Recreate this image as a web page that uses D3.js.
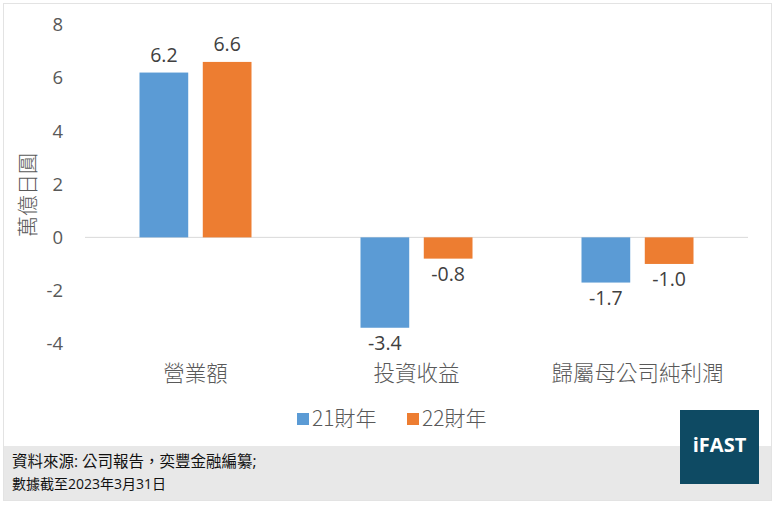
<!DOCTYPE html>
<html>
<head>
<meta charset="utf-8">
<script src="https://cdn.jsdelivr.net/npm/d3@7"></script>
<style>
  body { margin: 0; background: #fff; }
  text { font-family: "Open Sans", "Noto Sans CJK TC", sans-serif; }
  .cjk { font-family: "Noto Sans CJK TC", sans-serif; font-weight: 300; }
</style>
</head>
<body>
<div id="chart"></div>
<script>
// chart data
const categories = ["營業額", "投資收益", "歸屬母公司純利潤"];
const seriesNames = ["21財年", "22財年"];
const fy21 = [6.2, -3.4, -1.7];
const fy22 = [6.6, -0.8, -1.0];
const yTicks = [-4, -2, 0, 2, 4, 6, 8];
const colors = ["#5B9BD5", "#ED7D31"];
const footnote = ["資料來源: 公司報告，奕豐金融編纂;", "數據截至2023年3月31日"];

const width = 779, height = 506;
const margin = { top: 25, right: 31, bottom: 162, left: 85 };
const innerW = width - margin.left - margin.right;

const svg = d3.select("#chart").append("svg")
  .attr("width", width)
  .attr("height", height);

// outer frame + footer band
svg.append("rect")
  .attr("x", 3.5).attr("y", 3.5)
  .attr("width", 768).attr("height", 497)
  .attr("fill", "#fff").attr("stroke", "#e3e3e3");

svg.append("rect")
  .attr("x", 4).attr("y", 446)
  .attr("width", 767).attr("height", 54)
  .attr("fill", "#e8e8e8");

// footnote, two lines in one text block (first line is a bit larger)
svg.append("text")
  .attr("font-family", "\"Noto Sans CJK TC\", sans-serif")
  .attr("fill", "#111")
  .selectAll("tspan")
  .data(footnote)
  .join("tspan")
  .attr("x", 12)
  .attr("y", (d, i) => i === 0 ? 467 : 489)
  .attr("font-size", (d, i) => i === 0 ? 15.5 : 14)
  .text(d => d);

// logo
svg.append("rect")
  .attr("x", 680).attr("y", 410)
  .attr("width", 79).attr("height", 74)
  .attr("fill", "#0E4A63");
svg.append("text")
  .attr("x", 719.5).attr("y", 452)
  .attr("text-anchor", "middle")
  .attr("font-family", "Roboto, sans-serif")
  .attr("font-weight", "bold")
  .attr("font-size", 20)
  .attr("fill", "#fff")
  .text("iFAST");

const g = svg.append("g")
  .attr("transform", `translate(${margin.left},0)`);

const y = d3.scaleLinear().domain([-4, 8]).range([343.7, 24.7]);
const x0 = d3.scaleBand().domain(categories).range([0, innerW]);
const x1 = d3.scaleBand().domain(seriesNames)
  .range([x0.bandwidth() / 2 - 56, x0.bandwidth() / 2 + 56])
  .paddingInner(0.23);

// y tick labels
g.selectAll("text.ytick")
  .data(yTicks)
  .join("text")
  .attr("class", "ytick")
  .attr("x", -22)
  .attr("y", d => y(d))
  .attr("dy", "0.35em")
  .attr("text-anchor", "end")
  .attr("font-size", 18.5)
  .attr("fill", "#595959")
  .text(d => d);

// zero line
g.append("line")
  .attr("x1", 0).attr("x2", innerW)
  .attr("y1", y(0)).attr("y2", y(0))
  .attr("stroke", "#d9d9d9");

// y axis title
svg.append("text")
  .attr("class", "cjk")
  .attr("transform", `translate(35,195) rotate(-90)`)
  .attr("text-anchor", "middle")
  .attr("font-size", 21)
  .attr("fill", "#595959")
  .text("萬億日圓");

const rows = categories.map((c, i) => ({
  cat: c,
  vals: [{ s: seriesNames[0], v: fy21[i], k: 0 }, { s: seriesNames[1], v: fy22[i], k: 1 }]
}));

const grp = g.selectAll("g.cat")
  .data(rows)
  .join("g")
  .attr("class", "cat")
  .attr("transform", d => `translate(${x0(d.cat)},0)`);

grp.selectAll("rect")
  .data(d => d.vals)
  .join("rect")
  .attr("x", d => x1(d.s))
  .attr("width", x1.bandwidth())
  .attr("y", d => y(Math.max(0, d.v)))
  .attr("height", d => Math.abs(y(d.v) - y(0)))
  .attr("fill", d => colors[d.k]);

grp.selectAll("text.val")
  .data(d => d.vals)
  .join("text")
  .attr("class", "val")
  .attr("x", d => x1(d.s) + x1.bandwidth() / 2)
  .attr("y", d => d.v >= 0 ? y(d.v) - 11 : y(d.v) + 22)
  .attr("text-anchor", "middle")
  .attr("font-size", 19.5)
  .attr("fill", "#404040")
  .text(d => d.v.toFixed(1));

// category labels
g.selectAll("text.catlbl")
  .data(categories)
  .join("text")
  .attr("class", "catlbl cjk")
  .attr("x", d => x0(d) + x0.bandwidth() / 2)
  .attr("y", 381)
  .attr("text-anchor", "middle")
  .attr("font-size", 21.5)
  .attr("fill", "#595959")
  .text(d => d);

// legend
const legX = [297, 407];
const leg = svg.selectAll("g.leg")
  .data(seriesNames)
  .join("g")
  .attr("class", "leg")
  .attr("transform", (d, i) => `translate(${legX[i]},413)`);
leg.append("rect")
  .attr("width", 12).attr("height", 12)
  .attr("fill", (d, i) => colors[i]);
leg.append("text")
  .attr("class", "cjk")
  .attr("x", 15)
  .attr("y", 13)
  .attr("font-size", 21)
  .attr("fill", "#595959")
  .text(d => d);
</script>
</body>
</html>
